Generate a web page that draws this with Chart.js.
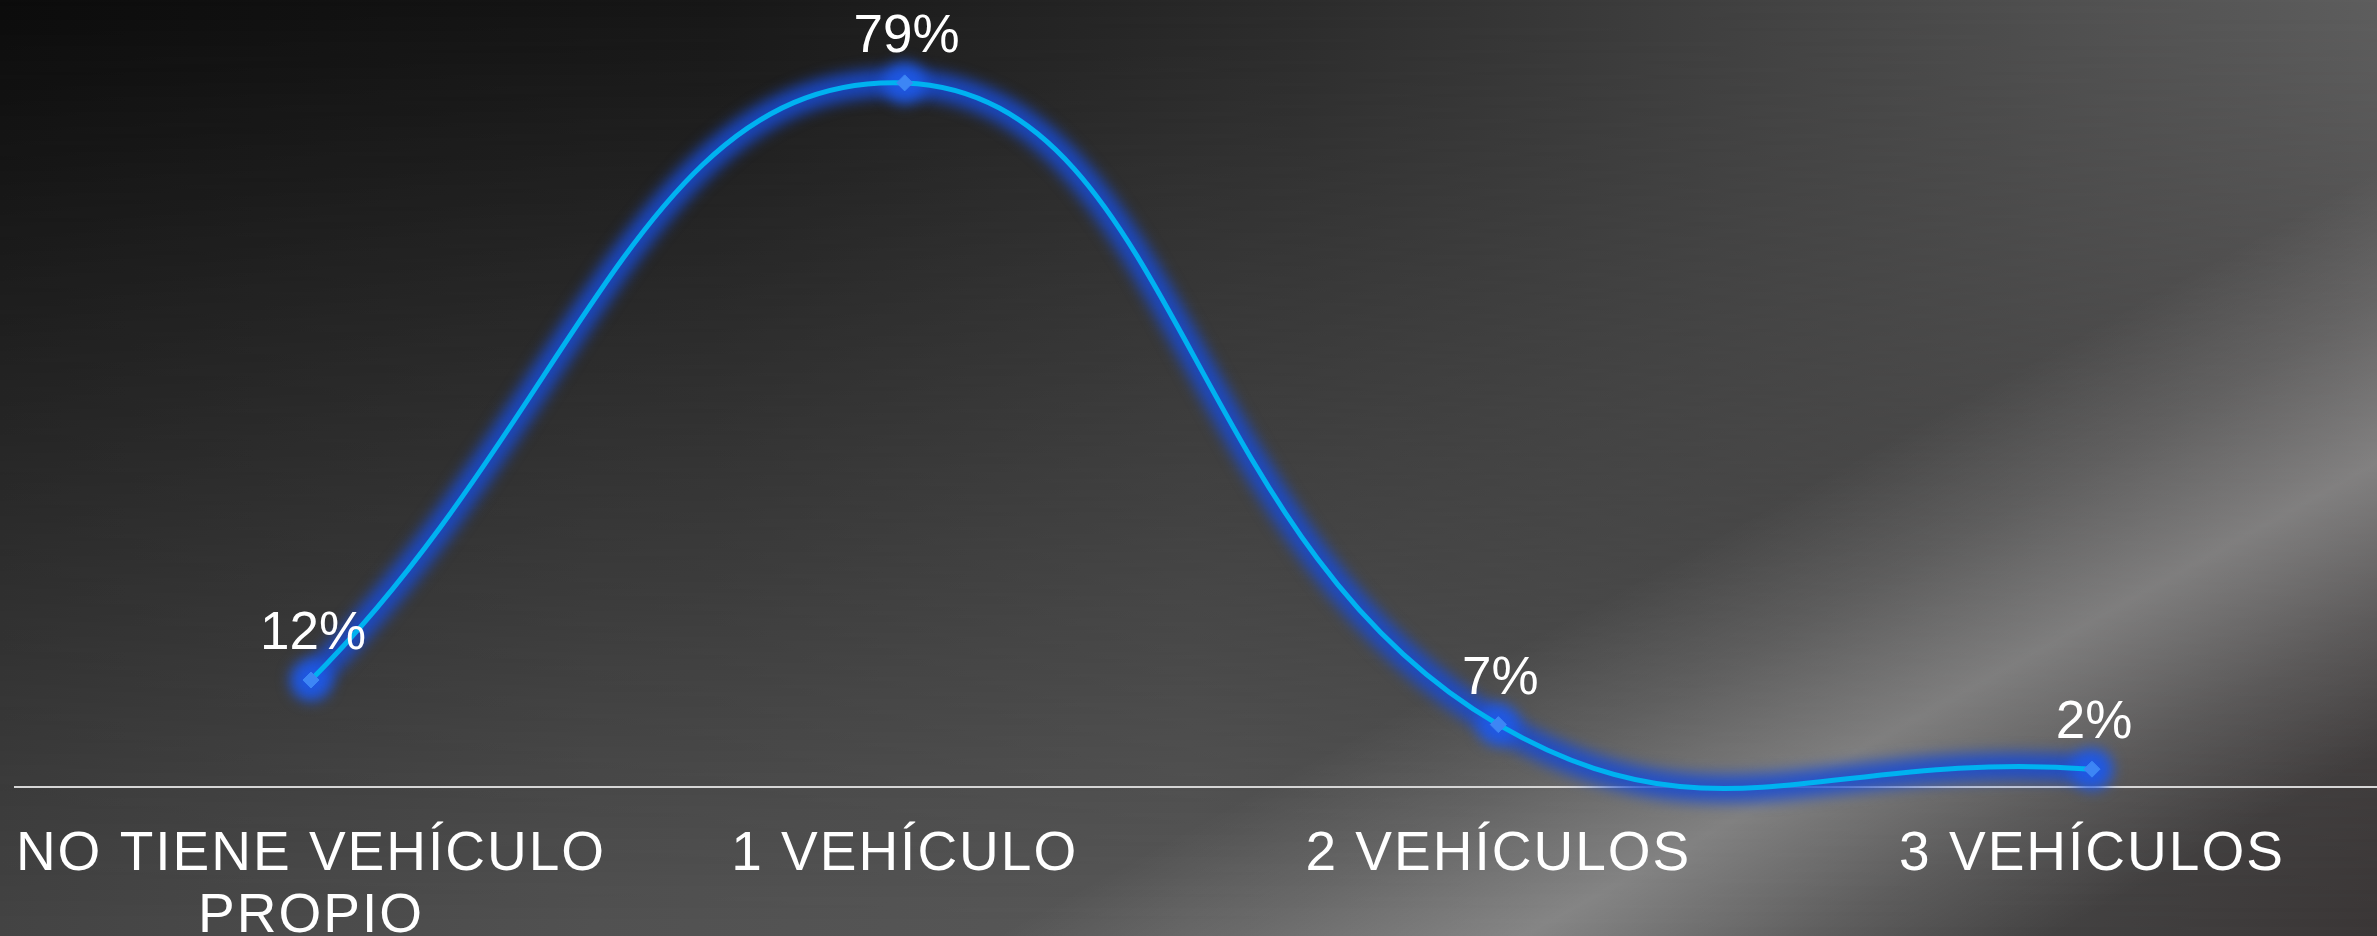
<!DOCTYPE html>
<html>
<head>
<meta charset="utf-8">
<script src="https://cdn.jsdelivr.net/npm/chart.js@4.4.0/dist/chart.umd.min.js"></script>
<style>
  html, body { margin: 0; padding: 0; }
  body {
    width: 2377px;
    height: 936px;
    overflow: hidden;
    position: relative;
    background: linear-gradient(to right, #0c0c0c 0%, #171717 30%, #2c2c2c 55%, #494949 80%, #5e5e5e 100%);
  }
  .bg-bottom {
    position: absolute; left: 0; top: 0; width: 2377px; height: 936px;
    background: linear-gradient(to right, #444444 0%, #525252 25%, #585858 50%, #505050 67%, #444343 85%, #3a3636 100%);
    -webkit-mask-image: linear-gradient(to bottom, transparent 0%, #000 100%);
    mask-image: linear-gradient(to bottom, transparent 0%, #000 100%);
  }
  .bg-streak {
    position: absolute; left: 0; top: 0; width: 2377px; height: 936px;
    background: linear-gradient(151deg, rgba(255,255,255,0) 66%, rgba(255,255,255,0.12) 72%, rgba(255,255,255,0.3) 79%, rgba(255,255,255,0.12) 86%, rgba(255,255,255,0) 92%);
  }
  #wrap { position: absolute; left: 0; top: 0; width: 2377px; height: 936px; }
</style>
</head>
<body>
<div class="bg-bottom"></div>
<div class="bg-streak"></div>
<div id="wrap"><canvas id="chart-vehiculos"></canvas></div>
<script>
// ==================================================
// DATA
// ==================================================
const categories = [["NO TIENE VEHÍCULO", "PROPIO"], "1 VEHÍCULO", "2 VEHÍCULOS", "3 VEHÍCULOS"];
const percentages = [12, 79, 7, 2];

const FONT = '"Liberation Sans", Arial, sans-serif';

// ==================================================
// PLUGINS
// ==================================================
// wider letters for the axis labels only
const tracking = {
  id: "tracking",
  beforeDraw(chart) {
    chart.ctx.letterSpacing = "2px";
  },
  beforeDatasetsDraw(chart) {
    chart.ctx.letterSpacing = "0px";
  },
};

// blurred blue band under the line and round the points
const glow = {
  id: "glow",
  beforeDatasetDraw(chart, args) {
    const ctx = chart.ctx;
    const meta = chart.getDatasetMeta(args.index);
    ctx.save();
    ctx.filter = "blur(7px)";
    ctx.strokeStyle = "rgba(25, 75, 210, 0.85)";
    ctx.lineWidth = 28;
    ctx.lineCap = "round";
    ctx.beginPath();
    meta.dataset.path(ctx);
    ctx.stroke();
    ctx.fillStyle = "rgba(30, 90, 235, 0.85)";
    meta.data.forEach((pt) => {
      ctx.beginPath();
      ctx.arc(pt.x, pt.y, 21, 0, Math.PI * 2);
      ctx.fill();
    });
    ctx.restore();
  },
};

// percentage above each point
const valueLabels = {
  id: "valueLabels",
  afterDatasetsDraw(chart) {
    const ctx = chart.ctx;
    const meta = chart.getDatasetMeta(0);
    ctx.save();
    ctx.font = "53px " + FONT;
    ctx.fillStyle = "#ffffff";
    ctx.textAlign = "center";
    ctx.textBaseline = "alphabetic";
    meta.data.forEach((pt, i) => {
      ctx.fillText(percentages[i] + "%", pt.x + 2, pt.y - 31);
    });
    ctx.restore();
  },
};

// ==================================================
// CHART
// ==================================================
const ctx = document.getElementById("chart-vehiculos").getContext("2d");

new Chart(ctx, {
  type: "line",
  data: {
    datasets: [
      {
        data: percentages.map((v, i) => ({ x: i, y: v })),
        borderColor: "#00b2f0",
        borderWidth: 5,
        tension: 0.45,
        fill: false,
        clip: false,
        pointStyle: "rectRot",
        pointRadius: 8,
        pointBackgroundColor: "#3d86f5",
        pointBorderColor: "#3d86f5",
        pointBorderWidth: 1,
      },
    ],
  },
  options: {
    responsive: true,
    maintainAspectRatio: false,
    animation: false,
    events: [],
    layout: { autoPadding: false, padding: { left: 15, top: 0, right: 0, bottom: 0 } },
    elements: { line: { capBezierPoints: false } },
    plugins: { legend: { display: false }, tooltip: { enabled: false } },
    scales: {
      x: {
        type: "linear",
        bounds: "data",
        min: -0.4986,
        max: 3.4801,
        grid: { display: false },
        border: { display: true, color: "#d6d6d6", width: 2 },
        afterBuildTicks(scale) {
          scale.ticks = categories.map((c, i) => ({ value: i }));
        },
        afterFit(scale) {
          scale.height = 149;
        },
        ticks: {
          color: "#ffffff",
          padding: 29,
          maxRotation: 0,
          autoSkip: false,
          font: { family: FONT, size: 55, lineHeight: 1.127 },
          callback: (value) => categories[value],
        },
      },
      y: {
        display: false,
        min: 0,
        max: 88.3,
      },
    },
  },
  plugins: [tracking, glow, valueLabels],
});
</script>
</body>
</html>
